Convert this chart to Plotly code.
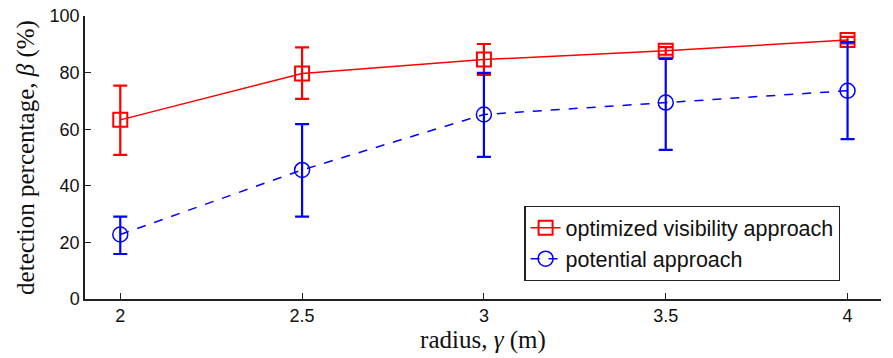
import plotly.graph_objects as go

radius = [2, 2.5, 3, 3.5, 4]

opt_mean = [63.3, 79.7, 84.6, 87.7, 91.5]
opt_upper = [75.4, 88.9, 90.1, 89.0, 92.6]
opt_lower = [50.9, 70.7, 79.2, 86.3, 90.3]

pot_mean = [22.8, 45.6, 65.2, 69.4, 73.6]
pot_upper = [29.1, 61.8, 79.9, 84.8, 90.8]
pot_lower = [15.9, 29.1, 50.2, 52.7, 56.5]

y_ticks = [0, 20, 40, 60, 80, 100]
x_ticks = [2, 2.5, 3, 3.5, 4]
x_tick_labels = ["2", "2.5", "3", "3.5", "4"]

def err(mean, upper, lower):
    return dict(
        type="data",
        symmetric=False,
        array=[u - m for u, m in zip(upper, mean)],
        arrayminus=[m - l for m, l in zip(mean, lower)],
        thickness=2.2,
        width=7,
    )

fig = go.Figure()
fig.add_trace(go.Scatter(
    x=radius, y=opt_mean, name="optimized visibility approach",
    mode="lines+markers",
    line=dict(color="#ff0000", width=1.5),
    marker=dict(symbol="square-open", size=14, color="#ff0000", line=dict(width=2)),
    error_y=dict(color="#ff0000", **err(opt_mean, opt_upper, opt_lower)),
))
fig.add_trace(go.Scatter(
    x=radius, y=pot_mean, name="potential approach",
    mode="lines+markers",
    line=dict(color="#0000ff", width=1.5, dash="dash"),
    marker=dict(symbol="circle-open", size=15, color="#0000ff", line=dict(width=1.5)),
    error_y=dict(color="#0000ff", **err(pot_mean, pot_upper, pot_lower)),
))

serif = "Liberation Serif, Times New Roman"
sans = "Liberation Sans, Arial"

fig.update_layout(
    width=893, height=358,
    margin=dict(l=85, r=12, t=16, b=59, autoexpand=False),
    paper_bgcolor="white", plot_bgcolor="white",
    font=dict(family=sans, size=18, color="#111111"),
    showlegend=True,
    legend=dict(
        x=0.552, y=0.196, xanchor="left", yanchor="middle",
        bordercolor="#222222", borderwidth=1.2, bgcolor="white",
        font=dict(family=sans, size=21.5, color="#111111"),
        tracegroupgap=0, itemwidth=30,
    ),
    xaxis=dict(
        range=[1.903, 4.092], automargin=False,
        tickmode="array", tickvals=x_ticks, ticktext=x_tick_labels,
        ticks="inside", ticklen=6, tickcolor="#222222", tickwidth=1,
        showline=True, linecolor="#222222", linewidth=1.5,
        showgrid=False, zeroline=False, mirror=False,
        ticklabeloverflow="allow",
        tickfont=dict(family=sans, size=18, color="#111111"),
        title=dict(text="radius, <i>γ</i> (m)", font=dict(family=serif, size=25, color="#111111"), standoff=4),
    ),
    yaxis=dict(
        range=[0, 100], automargin=False,
        tickmode="array", tickvals=y_ticks,
        ticks="inside", ticklen=6, tickcolor="#222222", tickwidth=1,
        showline=True, linecolor="#222222", linewidth=1.5,
        showgrid=False, zeroline=False, mirror=False,
        ticklabeloverflow="allow",
        tickfont=dict(family=sans, size=18, color="#111111"),
        title=dict(text="detection percentage, <i>β</i> (%)", font=dict(family=serif, size=25, color="#111111"), standoff=8),
    ),
)

fig.write_html(
    "out.html",
    config={"displayModeBar": False},
    post_script="document.body.style.margin='0';document.body.style.overflow='hidden';",
)
